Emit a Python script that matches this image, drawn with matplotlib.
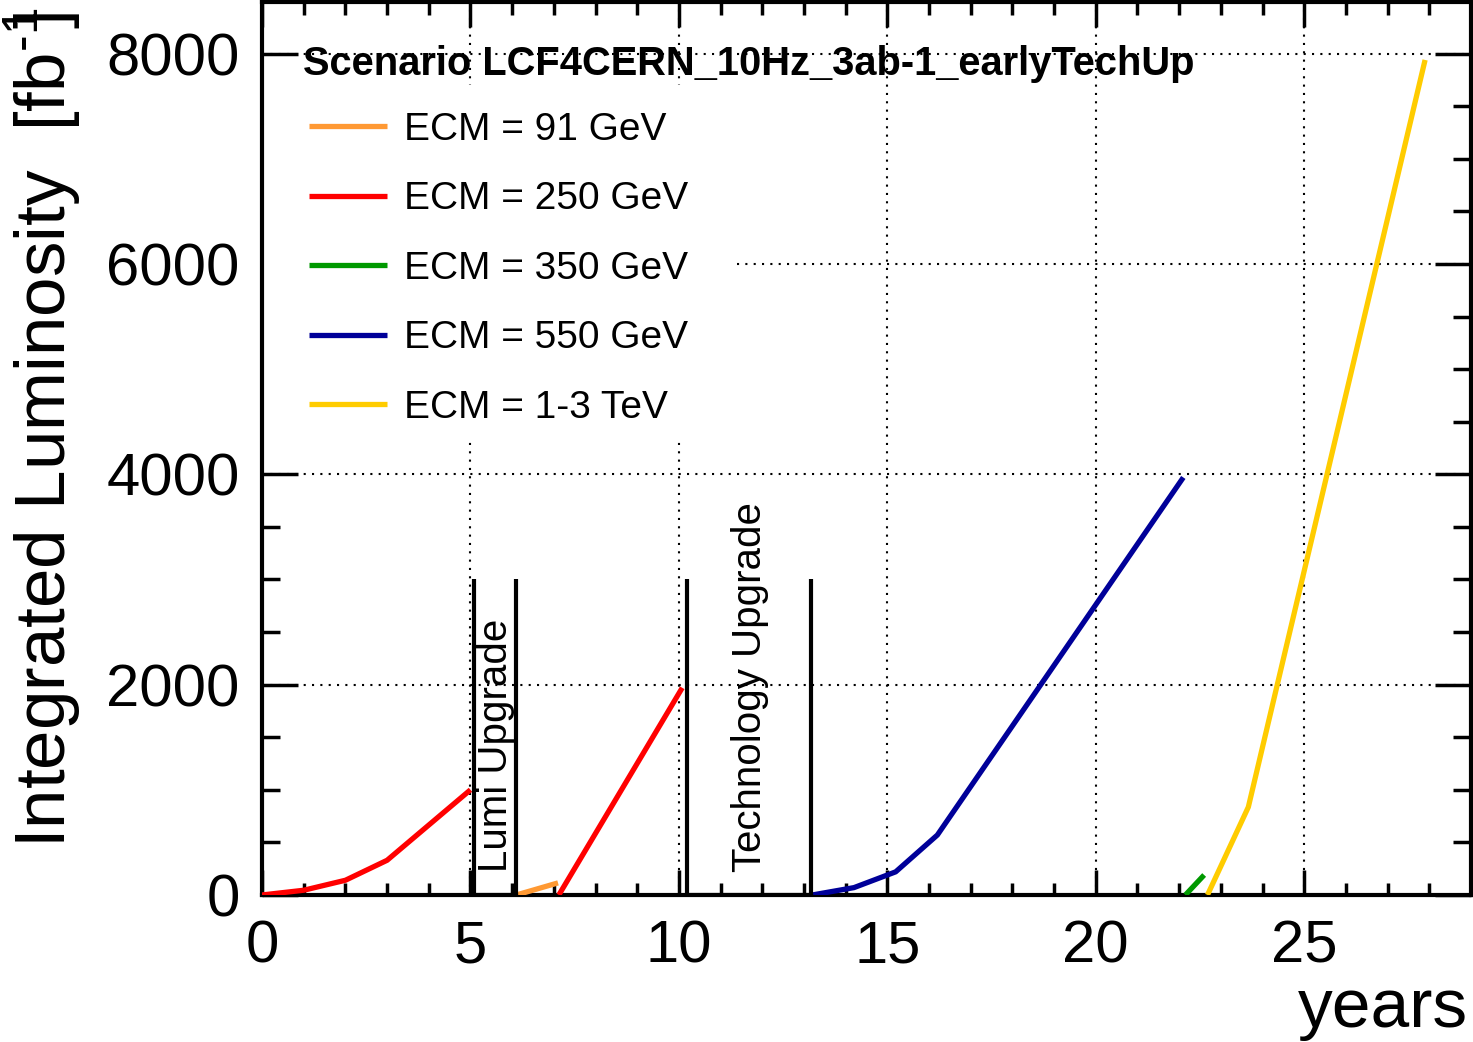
import matplotlib
matplotlib.use("Agg")
import matplotlib.pyplot as plt
from matplotlib.ticker import MultipleLocator
from matplotlib.patches import Rectangle

plt.rcParams['font.family'] = ['Liberation Sans', 'DejaVu Sans']
plt.rcParams['mathtext.fontset'] = 'custom'
plt.rcParams['mathtext.rm'] = 'Liberation Sans'

# data (years, integrated luminosity in fb^-1)
years_91 = [6.1, 7.1]
lumi_91 = [0, 115]
years_250a = [0, 1, 2, 3, 4, 5]
lumi_250a = [0, 45, 140, 330, 665, 1000]
years_250b = [7.12, 10.08]
lumi_250b = [0, 1970]
years_350 = [22.15, 22.6]
lumi_350 = [0, 190]
years_550 = [13.2, 14.2, 15.2, 16.2, 22.1]
lumi_550 = [0, 70, 220, 570, 3970]
years_tev = [22.68, 23.66, 27.9]
lumi_tev = [0, 836, 7940]

upgrade_start = [5.08, 10.19]
upgrade_end = [6.09, 13.16]
upgrade_names = ['Lumi Upgrade', 'Technology Upgrade']
upgrade_height = 3000

labels = ['ECM = 91 GeV', 'ECM = 250 GeV', 'ECM = 350 GeV',
          'ECM = 550 GeV', 'ECM = 1-3 TeV']
colors = ['#ff9933', '#ff0000', '#009900', '#000099', '#ffcc00']

fig = plt.figure(figsize=(14.73, 10.42), dpi=100)
ax = fig.add_axes([0.1779, 0.1411, 0.9986 - 0.1779, 0.998 - 0.1411])

lw = 3.8
kw = dict(lw=lw, solid_capstyle='butt', zorder=4)
h91, = ax.plot(years_91, lumi_91, color=colors[0], **kw)
h250, = ax.plot(years_250a, lumi_250a, color=colors[1], **kw)
ax.plot(years_250b, lumi_250b, color=colors[1], **kw)
h350, = ax.plot(years_350, lumi_350, color=colors[2], **kw)
h550, = ax.plot(years_550, lumi_550, color=colors[3], **kw)
htev, = ax.plot(years_tev, lumi_tev, color=colors[4], **kw)

# upgrade periods
for s, e, name in zip(upgrade_start, upgrade_end, upgrade_names):
    ax.vlines([s, e], 0, upgrade_height, color='black', lw=3, zorder=5)
    ax.plot([s, e], [0, 0], color='black', lw=3, zorder=5)
    ax.text((s + e) / 2 + 0.03, 220, name, rotation=90, rotation_mode='anchor',
            ha='left', va='center', fontsize=29, zorder=6)

ax.set_xlim(0, 29)
ax.set_ylim(0, 8490)
ax.xaxis.set_major_locator(MultipleLocator(5))
ax.xaxis.set_minor_locator(MultipleLocator(1))
ax.yaxis.set_major_locator(MultipleLocator(2000))
ax.yaxis.set_minor_locator(MultipleLocator(500))

ax.grid(True, which='major', color='black', lw=1.5, linestyle=(0, (1, 3)), zorder=1)
ax.set_axisbelow(True)
ax.tick_params(axis='both', which='both', direction='in', top=True, right=True,
               width=2.5, labelsize=43)
ax.tick_params(axis='x', which='major', length=18, pad=18)
ax.tick_params(axis='x', which='minor', length=9)
ax.tick_params(axis='y', which='major', length=26, pad=16)
ax.tick_params(axis='y', which='minor', length=13)
for sp in ax.spines.values():
    sp.set_linewidth(3)

# white box behind legend hides the grid
ax.add_patch(Rectangle((0, 0.5095), 0.392, 0.907 - 0.5095, transform=ax.transAxes,
                       facecolor='white', edgecolor='none', zorder=2))

ax.text(0.034, 0.918, 'Scenario LCF4CERN_10Hz_3ab-1_earlyTechUp',
        transform=ax.transAxes, fontsize=28.7, fontweight='bold', va='baseline')
ax.legend([h91, h250, h350, h550, htev], labels, loc='upper left',
          bbox_to_anchor=(0.039, 0.877), frameon=False, fontsize=28,
          handlelength=2.0, handletextpad=0.44, labelspacing=0.86,
          borderpad=0, borderaxespad=0)

# short superscript, like ROOT draws it
fig.text(0.0441, 0.1862, 'Integrated Luminosity  [fb$^{\\mathregular{\u20101}}\\!\\!$]',
         rotation=90, rotation_mode='anchor', ha='left', va='baseline', fontsize=51)
fig.text(0.9966, 0.0144, 'years', ha='right', va='baseline', fontsize=50)

fig.savefig('out.png', dpi=100)
